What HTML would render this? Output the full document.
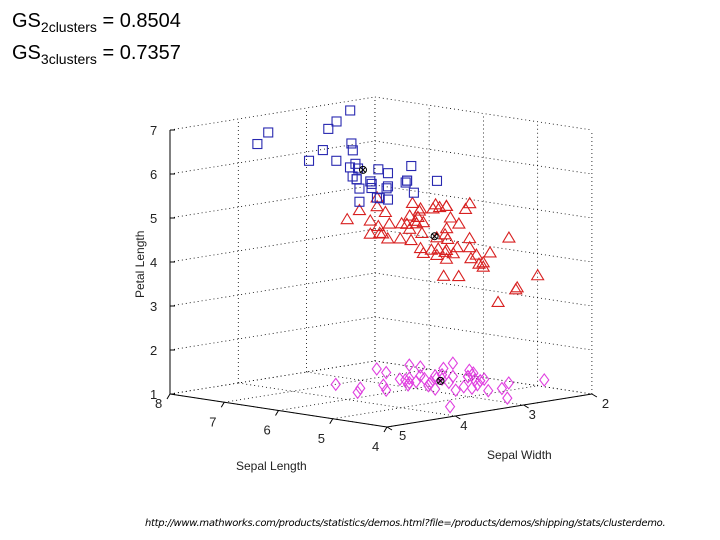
<!DOCTYPE html>
<html><head><meta charset="utf-8"><style>
body{margin:0;background:#fff;}
#wrap{position:relative;width:720px;height:540px;overflow:hidden;font-family:"Liberation Sans",sans-serif;}
.t{position:absolute;left:12px;font-family:"Liberation Sans",sans-serif;font-size:20px;color:#000;}
.t sub{font-size:14px;}
#url{position:absolute;left:145px;top:518px;font-family:"DejaVu Sans",sans-serif;font-style:italic;font-size:10px;color:#000;letter-spacing:-0.3px;}
</style></head><body>
<div id="wrap">
<div class="t" style="top:10px">GS<sub>2clusters</sub> = 0.8504</div>
<div class="t" style="top:42px">GS<sub>3clusters</sub> = 0.7357</div>
<svg id="chart" width="720" height="540" style="position:absolute;left:0;top:0"></svg>
<div id="url">http://www.mathworks.com/products/statistics/demos.html?file=/products/demos/shipping/stats/clusterdemo.</div>
</div>
<script>
// sepal length, sepal width, petal length per cluster
const blueSL=[6.3,7.1,6.3,6.5,7.6,7.3,6.7,7.2,6.4,6.8,6.4,6.5,7.7,7.7,6.9,7.7,6.7,7.2,6.4,7.2,7.4,7.9,6.4,6.1,7.7,6.3,6.4,6.9,6.7,6.8,6.7,6.2,6.9,6.5];
const blueSW=[3.3,3.0,2.9,3.0,3.0,2.9,2.5,3.6,2.7,3.0,3.2,3.0,3.8,2.6,3.2,2.8,3.3,3.2,2.8,3.0,2.8,3.8,2.8,2.6,3.0,3.4,3.1,3.1,3.1,3.2,3.3,3.4,3.1,3.0];
const bluePL=[6.0,5.9,5.6,5.8,6.6,6.3,5.8,6.1,5.3,5.5,5.3,5.5,6.7,6.9,5.7,6.7,5.7,6.0,5.6,5.8,6.1,6.4,5.6,5.6,6.1,5.6,5.5,5.4,5.6,5.9,5.7,5.4,5.1,5.2];
const redSL=[7.0,6.4,6.9,5.5,6.5,5.7,6.3,4.9,6.6,5.2,5.0,5.9,6.0,6.1,5.6,6.7,5.6,5.8,6.2,5.6,5.9,6.1,6.3,6.1,6.4,6.6,6.8,6.7,6.0,5.7,5.5,5.5,5.8,6.0,5.4,6.0,6.7,6.3,5.6,5.5,5.5,6.1,5.8,5.0,5.6,5.7,5.7,6.2,5.1,5.7,5.8,4.9,5.7,5.8,6.0,5.6,6.3,6.2,6.1,6.0,6.3,5.8,6.7,5.9];
const redSW=[3.2,3.2,3.1,2.3,2.8,2.8,3.3,2.4,2.9,2.7,2.0,3.0,2.2,2.9,2.9,3.1,3.0,2.7,2.2,2.5,3.2,2.8,2.5,2.8,2.9,3.0,2.8,3.0,2.9,2.6,2.4,2.4,2.7,2.7,3.0,3.4,3.1,2.3,3.0,2.5,2.6,3.0,2.6,2.3,2.7,3.0,2.9,2.9,2.5,2.8,2.7,2.5,2.5,2.8,2.2,2.8,2.7,2.8,3.0,3.0,2.8,2.7,3.0,3.0];
const redPL=[4.7,4.5,4.9,4.0,4.6,4.5,4.7,3.3,4.6,3.9,3.5,4.2,4.0,4.7,3.6,4.4,4.5,4.1,4.5,3.9,4.8,4.0,4.9,4.7,4.3,4.4,4.8,5.0,4.5,3.5,3.8,3.7,3.9,5.1,4.5,4.5,4.7,4.4,4.1,4.0,4.4,4.6,4.0,3.3,4.2,4.2,4.2,4.3,3.0,4.1,5.1,4.5,5.0,5.1,5.0,4.9,4.9,4.8,4.9,4.8,5.1,5.1,5.2,5.1];
const magSL=[5.1,4.9,4.7,4.6,5.0,5.4,4.6,5.0,4.4,4.9,5.4,4.8,4.8,4.3,5.8,5.7,5.4,5.1,5.7,5.1,5.4,5.1,4.6,5.1,4.8,5.0,5.0,5.2,5.2,4.7,4.8,5.4,5.2,5.5,4.9,5.0,5.5,4.9,4.4,5.1,5.0,4.5,4.4,5.0,5.1,4.8,5.1,4.6,5.3,5.0];
const magSW=[3.5,3.0,3.2,3.1,3.6,3.9,3.4,3.4,2.9,3.1,3.7,3.4,3.0,3.0,4.0,4.4,3.9,3.5,3.8,3.8,3.4,3.7,3.6,3.3,3.4,3.0,3.4,3.5,3.4,3.2,3.1,3.4,4.1,4.2,3.1,3.2,3.5,3.1,3.0,3.4,3.5,2.3,3.2,3.5,3.8,3.0,3.8,3.2,3.7,3.3];
const magPL=[1.4,1.4,1.3,1.5,1.4,1.7,1.4,1.5,1.4,1.5,1.5,1.6,1.4,1.1,1.2,1.5,1.3,1.4,1.7,1.5,1.7,1.5,1.0,1.7,1.9,1.6,1.6,1.5,1.4,1.6,1.6,1.5,1.5,1.4,1.5,1.2,1.3,1.5,1.3,1.5,1.3,1.3,1.3,1.6,1.9,1.4,1.6,1.4,1.5,1.4];
const zTicks=[1,2,3,4,5,6,7];
const slTicks=[8,7,6,5,4];
const swTicks=[5,4,3,2];

const svg=document.getElementById('chart');
const NS='http://www.w3.org/2000/svg';
function P(sl,sw,pl){return [170+(8-sl)*54.25+(5-sw)*68.3, 394+(8-sl)*8.25-(5-sw)*11-(pl-1)*44];}
function mk(tag,attrs,parent){const e=document.createElementNS(NS,tag);for(const k in attrs)e.setAttribute(k,attrs[k]);(parent||svg).appendChild(e);return e;}
function line(a,b,dotted,name){const l=mk('line',{x1:a[0],y1:a[1],x2:b[0],y2:b[1],stroke:'#000','stroke-width':dotted?0.8:1,'stroke-dasharray':dotted?'1 3':'none'});

return l;}
function text(x,y,s,name,extra){const t=mk('text',Object.assign({x:x,y:y,'font-size':13,'font-family':'Liberation Sans, sans-serif',fill:'#222'},extra||{}));t.textContent=s;

return t;}
// grid: back wall SL=8
zTicks.forEach(z=>{line(P(8,5,z),P(8,2,z),true,'grid-z-left-wall');line(P(8,2,z),P(4,2,z),true,'grid-z-back-wall');});
swTicks.forEach(w=>{line(P(8,w,1),P(8,w,7),true,'grid-sw-vertical');line(P(8,w,1),P(4,w,1),true,'grid-sw-floor');});
slTicks.forEach(s=>{line(P(s,2,1),P(s,2,7),true,'grid-sl-vertical');line(P(s,5,1),P(s,2,1),true,'grid-sl-floor');});
// axes
line(P(8,5,1),P(8,5,7),false,'z-axis');
line(P(8,5,1),P(4,5,1),false,'sepal-length-axis');
line(P(4,5,1),P(4,2,1),false,'sepal-width-axis');
zTicks.forEach(z=>{const p=P(8,5,z);line(p,[p[0]+5,p[1]],false,'z-tick');text(p[0]-20,p[1]+5,z,'z-tick-label');});
slTicks.forEach(s=>{const p=P(s,5,1);line(p,[p[0]-3,p[1]+5],false,'sl-tick');text(p[0]-15,p[1]+(s===8?14:24),s,'sl-tick-label');});
swTicks.forEach(w=>{const p=P(4,w,1);line(p,[p[0]+5,p[1]+3],false,'sw-tick');text(p[0]+(w===2?10:w===5?12:5),p[1]+(w===2?14:w===5?13:14),w,'sw-tick-label');});
text(236,470,'Sepal Length','x-axis-title',{'font-size':12});
text(487,459,'Sepal Width','y-axis-title',{'font-size':12});
text(0,0,'Petal Length','z-axis-title',{'font-size':12,transform:'translate(144,298) rotate(-90)'});
function plot(SL,SW,PL,shape,color,name){
  for(let i=0;i<SL.length;i++){const [x,y]=P(SL[i],SW[i],PL[i]);let e;
    if(shape==='sq')e=mk('rect',{x:x-4.5,y:y-4.5,width:9,height:9,fill:'none',stroke:color,'stroke-width':1.1});
    else if(shape==='tri')e=mk('polygon',{points:`${x},${y-6} ${x-6},${y+4} ${x+6},${y+4}`,fill:'none',stroke:color,'stroke-width':1.1});
    else e=mk('polygon',{points:`${x},${y-6} ${x+4.5},${y} ${x},${y+6} ${x-4.5},${y}`,fill:'none',stroke:color,'stroke-width':1.1});
    
    }
  const m=a=>a.reduce((s,v)=>s+v,0)/a.length;const c=P(m(SL),m(SW),m(PL));
  const g=mk('g',{});
  
  
  mk('circle',{cx:c[0],cy:c[1],r:3.5,fill:'none',stroke:'#000'},g);
  mk('path',{d:`M${c[0]-2.5} ${c[1]-2.5}L${c[0]+2.5} ${c[1]+2.5}M${c[0]+2.5} ${c[1]-2.5}L${c[0]-2.5} ${c[1]+2.5}`,stroke:'#000'},g);
}
plot(magSL,magSW,magPL,'dia','#e040e0','cluster3-point');
plot(redSL,redSW,redPL,'tri','#d82020','cluster2-point');
plot(blueSL,blueSW,bluePL,'sq','#2828b0','cluster1-point');
</script>
</body></html>
